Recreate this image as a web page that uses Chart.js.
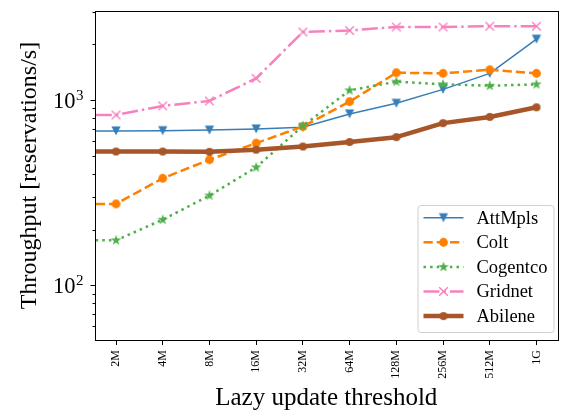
<!DOCTYPE html>
<html>
<head>
<meta charset="utf-8">
<script src="https://cdn.jsdelivr.net/npm/chart.js@4"></script>
<style>
html, body { margin: 0; padding: 0; background: #fff; }
</style>
</head>
<body>
<canvas id="chart" width="567" height="412"></canvas>
<script>
// thresholds (first one is clipped by the x range, only its line stub shows)
const thresholds = ['1M', '2M', '4M', '8M', '16M', '32M', '64M', '128M', '256M', '512M', '1G'];

// throughput values, reservations/s
const attMpls  = [681, 681, 683, 688, 698, 712, 841, 960, 1141, 1392, 2128];
const colt     = [275, 275, 378, 476, 585, 719, 980, 1403, 1392, 1455, 1392];
const cogentco = [175, 175, 226, 305, 433, 725, 1127, 1255, 1214, 1194, 1214];
const gridnet  = [830, 830, 929, 988, 1308, 2328, 2370, 2477, 2477, 2500, 2500];
const abilene  = [527, 527, 527, 525, 539, 561, 593, 630, 750, 810, 913];

const serif = "'Liberation Serif', 'DejaVu Serif', serif";
Chart.defaults.font.family = serif;
Chart.defaults.color = '#000';

// marker images (matplotlib style markers)
function marker(kind, color, r) {
	const c = document.createElement('canvas');
	const s = Math.ceil(r * 2 + 4);
	c.width = s;
	c.height = s;
	const g = c.getContext('2d');
	const m = s / 2;
	g.fillStyle = color;
	g.strokeStyle = color;
	g.beginPath();
	if (kind === 'tri') {
		g.moveTo(m - r, m - r);
		g.lineTo(m + r, m - r);
		g.lineTo(m, m + r);
		g.closePath();
		g.fill();
	} else if (kind === 'circle') {
		g.arc(m, m, r, 0, Math.PI * 2);
		g.fill();
	} else if (kind === 'star') {
		for (let i = 0; i < 10; i++) {
			const rr = i % 2 === 0 ? r : r * 0.382;
			const a = -Math.PI / 2 + i * Math.PI / 5;
			const px = m + rr * Math.cos(a);
			const py = m + rr * Math.sin(a);
			if (i === 0) g.moveTo(px, py); else g.lineTo(px, py);
		}
		g.closePath();
		g.fill();
	} else if (kind === 'x') {
		g.lineWidth = 1.4;
		g.moveTo(m - r, m - r);
		g.lineTo(m + r, m + r);
		g.moveTo(m + r, m - r);
		g.lineTo(m - r, m + r);
		g.stroke();
	}
	return c;
}

function series(label, values, color, width, dash, mark, order) {
	return {
		label,
		data: values.map((v, i) => ({x: i, y: v})),
		borderColor: color,
		backgroundColor: color,
		borderWidth: width,
		borderDash: dash,
		borderJoinStyle: 'round',
		pointStyle: mark,
		pointRadius: 5,
		pointHoverRadius: 5,
		tension: 0,
		clip: 0,
		order
	};
}

const datasets = [
	series('AttMpls', attMpls, '#377eb8', 1.5, [], marker('tri', '#377eb8', 4.6), 5),
	series('Colt', colt, '#ff7f00', 2.5, [9.25, 4], marker('circle', '#ff7f00', 4.4), 4),
	series('Cogentco', cogentco, '#4daf4a', 2.5, [2.5, 4.1], marker('star', '#4daf4a', 5.6), 3),
	series('Gridnet', gridnet, '#f781bf', 2.5, [16, 4, 2.5, 4], marker('x', '#f781bf', 4.3), 2),
	series('Abilene', abilene, '#a65628', 4.5, [], marker('circle', '#a65628', 4), 1)
];

// box, y ticks with superscript labels
const frame = {
	id: 'frame',
	afterDatasetsDraw(chart) {
		const {ctx, chartArea: a, scales: {y}} = chart;
		const l = Math.round(a.left) + 0.5, t = Math.round(a.top) + 0.5;
		const r = Math.round(a.right) + 0.5, b = Math.round(a.bottom) + 0.5;
		ctx.save();
		ctx.strokeStyle = '#000';
		ctx.lineWidth = 1;
		ctx.strokeRect(l, t, r - l, b - t);
		for (let n = 1; n <= 3; n++) {
			for (let k = 1; k <= 9; k++) {
				const v = k * Math.pow(10, n);
				if (v < y.min || v > y.max) continue;
				const py = Math.round(y.getPixelForValue(v)) + 0.5;
				const len = k === 1 ? 5 : 3;
				ctx.beginPath();
				ctx.moveTo(l - len, py);
				ctx.lineTo(l, py);
				ctx.stroke();
				if (k === 1) {
					ctx.fillStyle = '#000';
					ctx.textBaseline = 'alphabetic';
					ctx.font = '22.5px ' + serif;
					ctx.textAlign = 'right';
					ctx.fillText('10', l - 20, py + 7.7);
					ctx.font = '15px ' + serif;
					ctx.textAlign = 'left';
					ctx.fillText(String(n), l - 19.5, py - 0.5);
				}
			}
		}
		ctx.restore();
	}
};

// legend in lower right corner
const legendBox = {
	id: 'legendBox',
	afterDraw(chart) {
		const {ctx, chartArea: a} = chart;
		const w = 136, h = 127;
		const x0 = a.right - 4 - w, y0 = a.bottom - 8 - h;
		ctx.save();
		ctx.beginPath();
		ctx.roundRect(x0 + 0.5, y0 + 0.5, w, h, 3);
		ctx.fillStyle = 'rgba(255,255,255,0.8)';
		ctx.fill();
		ctx.strokeStyle = '#d0d0d0';
		ctx.lineWidth = 1;
		ctx.stroke();
		chart.data.datasets.forEach((ds, i) => {
			const cy = y0 + 12.7 + i * 24.6;
			ctx.beginPath();
			ctx.strokeStyle = ds.borderColor;
			ctx.lineWidth = ds.borderWidth;
			ctx.setLineDash(ds.borderDash);
			ctx.moveTo(x0 + 6, cy);
			ctx.lineTo(x0 + 46, cy);
			ctx.stroke();
			ctx.setLineDash([]);
			const img = ds.pointStyle;
			ctx.drawImage(img, x0 + 26 - img.width / 2, cy - img.height / 2);
			ctx.fillStyle = '#000';
			ctx.font = '18.5px ' + serif;
			ctx.textBaseline = 'middle';
			ctx.textAlign = 'left';
			ctx.fillText(ds.label, x0 + 59, cy + 1);
		});
		ctx.restore();
	}
};

new Chart(document.getElementById('chart').getContext('2d'), {
	type: 'line',
	data: {datasets},
	options: {
		responsive: false,
		animation: false,
		devicePixelRatio: 1,
		layout: {padding: {top: 11, right: 9, left: 0, bottom: 0}},
		plugins: {legend: {display: false}, tooltip: {enabled: false}},
		scales: {
			x: {
				type: 'linear',
				min: 0.55,
				max: 10.45,
				afterBuildTicks: s => { s.ticks = thresholds.slice(1).map((_, i) => ({value: i + 1})); },
				afterFit: s => { s.height = 72; },
				ticks: {
					autoSkip: false,
					minRotation: 90,
					maxRotation: 90,
					padding: 5,
					font: {size: 12},
					callback: v => thresholds[v]
				},
				grid: {display: true, drawOnChartArea: false, drawTicks: true, tickLength: 5, color: '#000'},
				border: {display: false},
				title: {display: true, text: 'Lazy update threshold', font: {size: 25}, padding: {top: 0, bottom: -1}}
			},
			y: {
				type: 'logarithmic',
				min: 50.7,
				max: 3020,
				afterFit: s => { s.width = 95; },
				ticks: {display: false},
				grid: {display: false},
				border: {display: false},
				title: {display: true, text: 'Throughput [reservations/s]', font: {size: 24}, padding: {top: 15, bottom: 0}}
			}
		}
	},
	plugins: [frame, legendBox]
});
</script>
</body>
</html>
